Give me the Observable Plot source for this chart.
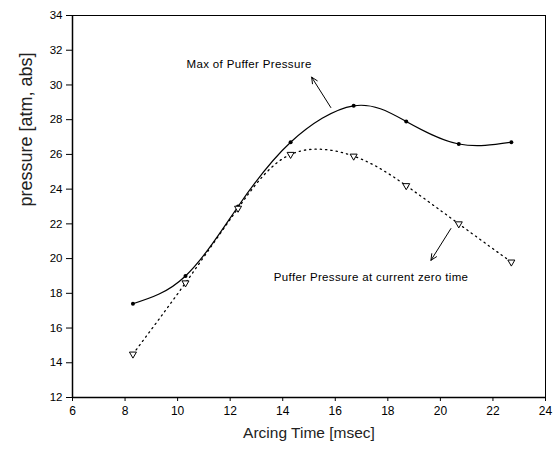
<!DOCTYPE html>
<html>
<head>
<meta charset="utf-8">
<script src="https://cdn.jsdelivr.net/npm/d3@7"></script>
<script src="https://cdn.jsdelivr.net/npm/@observablehq/plot@0.6"></script>
<style>
  html, body { margin: 0; padding: 0; background: #fff; }
  #chart svg { display: block; }
  #chart svg .annot text { letter-spacing: 0.35px; }
</style>
</head>
<body>
<div id="chart"></div>
<script>
const arcingTime = [8.3, 10.3, 12.3, 14.3, 16.7, 18.7, 20.7, 22.7];
const maxPufferPressure = [17.4, 19.0, 23.0, 26.7, 28.8, 27.9, 26.6, 26.7];
const zeroTimePressure = [14.5, 18.6, 22.9, 26.0, 25.9, 24.2, 22.0, 19.8];
const xTicks = [6, 8, 10, 12, 14, 16, 18, 20, 22, 24];
const yTicks = [12, 14, 16, 18, 20, 22, 24, 26, 28, 30, 32, 34];
const annotations = [
  {label: "Max of Puffer Pressure", x: 10.34, y: 31.2, x1: 15.83, y1: 28.7, x2: 15.1, y2: 30.45},
  {label: "Puffer Pressure at current zero time", x: 13.66, y: 18.9, x1: 20.4, y1: 21.73, x2: 19.64, y2: 19.9}
];

const maxData = arcingTime.map((t, i) => ({t, p: maxPufferPressure[i]}));
const zeroData = arcingTime.map((t, i) => ({t, p: zeroTimePressure[i]}));

const chart = Plot.plot({
  width: 556,
  height: 453,
  marginLeft: 72,
  marginRight: 11,
  marginTop: 15,
  marginBottom: 56,
  style: {fontFamily: "Liberation Sans, Arial, sans-serif", fontSize: "11px", color: "#000", background: "#fff"},
  x: {domain: [6, 24]},
  y: {domain: [12, 34]},
  marks: [
    Plot.frame({stroke: "#000", strokeWidth: 1}),
    Plot.ruleX([6], {stroke: "#000", strokeWidth: 1.5}),
    Plot.ruleY([12], {stroke: "#000", strokeWidth: 1.5}),
    Plot.axisX({ticks: xTicks, tickSize: 4, tickPadding: 5, fontSize: 12, label: null}),
    Plot.axisY({ticks: yTicks, tickSize: 6, tickPadding: 4, fontSize: 11.5, label: null}),
    Plot.text(["Arcing Time [msec]"], {frameAnchor: "bottom", dy: 40, fontSize: 15.5, fill: "#222"}),
    Plot.text(["pressure [atm, abs]"], {frameAnchor: "left", dx: -46, rotate: -90, fontSize: 18, fill: "#222"}),
    Plot.line(maxData, {x: "t", y: "p", curve: "natural", stroke: "#000", strokeWidth: 1.2}),
    Plot.line(zeroData, {x: "t", y: "p", curve: "natural", stroke: "#000", strokeWidth: 1.3, strokeDasharray: "1.3,4"}),
    Plot.dot(maxData, {x: "t", y: "p", r: 2, fill: "#000", stroke: "none"}),
    Plot.dot(zeroData, {x: "t", y: "p", symbol: "triangle", rotate: 180, r: 2.6, fill: "#fff", stroke: "#000", strokeWidth: 1}),
    Plot.text(annotations, {x: "x", y: "y", text: "label", textAnchor: "start", fontSize: 11.5, fill: "#000", className: "annot"}),
    Plot.arrow(annotations, {x1: "x1", y1: "y1", x2: "x2", y2: "y2", stroke: "#000", strokeWidth: 1, headLength: 10, headAngle: 50})
  ]
});
document.getElementById("chart").appendChild(chart);
</script>
</body>
</html>
